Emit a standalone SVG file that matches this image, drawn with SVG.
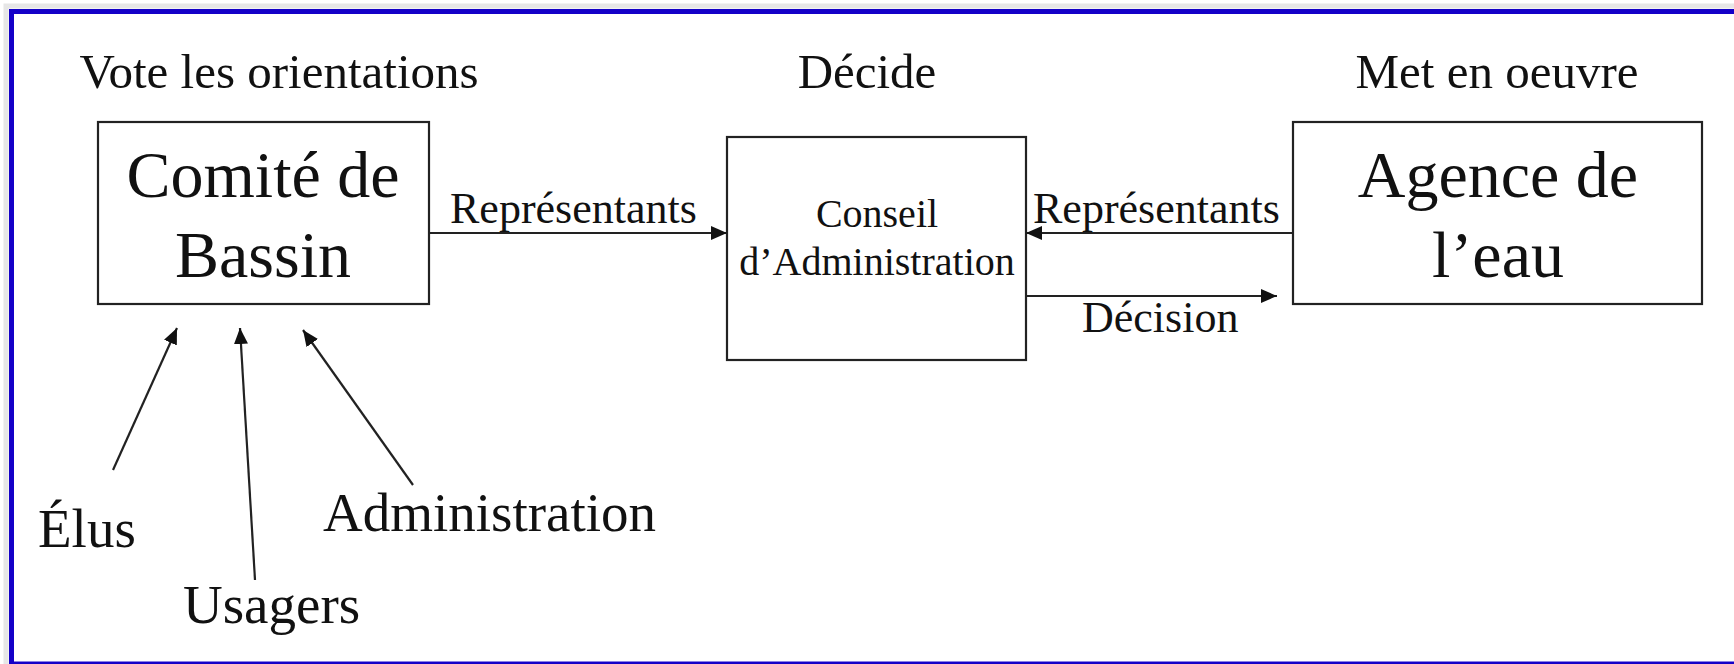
<svg xmlns="http://www.w3.org/2000/svg" width="1734" height="664" viewBox="0 0 1734 664">
<style>
text{font-family:"Liberation Serif","Times New Roman",serif;fill:#111}
.box{fill:#fff;stroke:#222;stroke-width:2.2}
.conn{stroke:#222;stroke-width:2.2;fill:none}
.hdr{font-size:49px;text-anchor:middle}
.big{font-size:66px;text-anchor:middle}
.mid{font-size:40px;text-anchor:middle}
.lbl{font-size:44px}
.src{font-size:55px}
</style>
<defs>
<marker id="ah" viewBox="0 0 16 14" refX="16" refY="7" markerWidth="16" markerHeight="14" markerUnits="userSpaceOnUse" orient="auto">
<path d="M0,0 L16,7 L0,14 Z" fill="#111"/>
</marker>
</defs>
<rect x="0" y="0" width="1734" height="664" fill="#fff"/>
<rect x="6" y="6" width="1750" height="670" fill="none" stroke="#e6e6e6" stroke-width="5"/>
<rect x="11.5" y="11.5" width="1740" height="652.5" fill="none" stroke="#1400c8" stroke-width="5"/>

<g id="lbl-vote"><text class="hdr" x="279" y="88">Vote les orientations</text></g>
<g id="lbl-decide"><text class="hdr" x="867" y="88">Décide</text></g>
<g id="lbl-met"><text class="hdr" x="1497" y="88">Met en oeuvre</text></g>

<g id="node-comite">
<rect class="box" x="98" y="122" width="331" height="182"/>
<text class="big" x="263" y="197">Comité de</text>
<text class="big" x="263" y="277">Bassin</text>
</g>
<g id="node-conseil">
<rect class="box" x="727" y="137" width="299" height="223"/>
<text class="mid" x="877" y="227">Conseil</text>
<text class="mid" x="877" y="275">d’Administration</text>
</g>
<g id="node-agence">
<rect class="box" x="1293" y="122" width="409" height="182"/>
<text class="big" x="1498" y="197">Agence de</text>
<text class="big" x="1498" y="277">l’eau</text>
</g>

<g id="node-elus"><text class="src" x="38" y="547">Élus</text></g>
<g id="node-usagers"><text class="src" x="183" y="623">Usagers</text></g>
<g id="node-admin"><text class="src" x="323" y="531">Administration</text></g>

<g id="connectors">
<line class="conn" x1="429" y1="233" x2="727" y2="233" marker-end="url(#ah)"/>
<text class="lbl" x="450" y="223">Représentants</text>
<line class="conn" x1="1293" y1="233" x2="1026" y2="233" marker-end="url(#ah)"/>
<text class="lbl" x="1033" y="223">Représentants</text>
<line class="conn" x1="1026" y1="296" x2="1277" y2="296" marker-end="url(#ah)"/>
<text class="lbl" x="1082" y="332">Décision</text>
<line class="conn" x1="113" y1="470" x2="177" y2="328" marker-end="url(#ah)"/>
<line class="conn" x1="255" y1="580" x2="240" y2="328" marker-end="url(#ah)"/>
<line class="conn" x1="413" y1="485" x2="303" y2="330" marker-end="url(#ah)"/>
</g>
</svg>
